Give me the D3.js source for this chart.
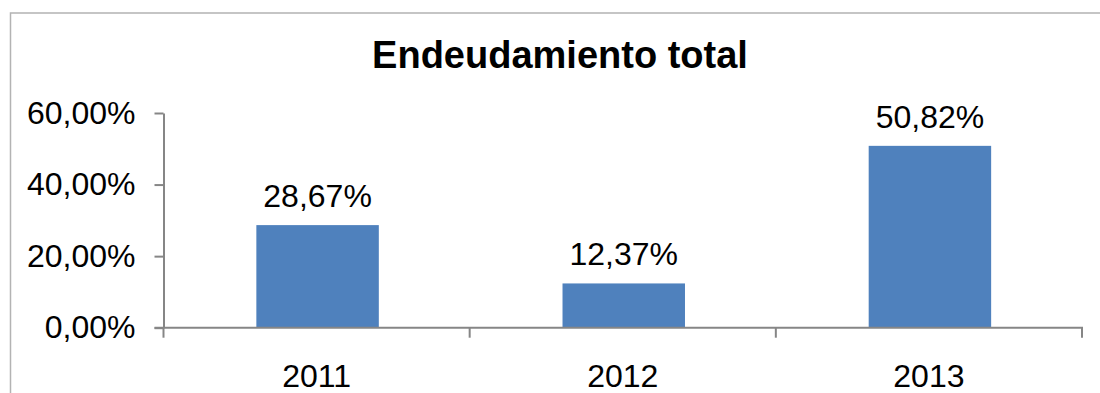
<!DOCTYPE html>
<html>
<head>
<meta charset="utf-8">
<script src="https://cdn.jsdelivr.net/npm/d3@7"></script>
<style>
  html, body { margin: 0; padding: 0; background: #fff; }
  svg { display: block; font-family: "Liberation Sans", Arial, sans-serif; }
</style>
</head>
<body>
<svg id="chart" width="1100" height="393"></svg>
<script>
// Chart data
const categories = ["2011", "2012", "2013"];
const values = [0.2867, 0.1237, 0.5082];
const yTicks = [0, 0.2, 0.4, 0.6];
const chartTitle = "Endeudamiento total";

// Spanish number formatting (decimal comma)
const es = d3.formatLocale({ decimal: ",", thousands: ".", grouping: [3], currency: ["", " €"] });
const pct = es.format(".2%");

const svg = d3.select("#chart");
const W = 1100, H = 393;
const plot = { left: 163.5, right: 1082, top: 113, bottom: 327.7 };

// Outer chart frame (continues past the right and bottom edges)
svg.append("rect")
  .attr("x", 10.5).attr("y", 13)
  .attr("width", W + 20).attr("height", H + 20)
  .attr("fill", "none").attr("stroke", "#b3b3b3").attr("stroke-width", 1.5);

// Title
svg.append("text")
  .attr("x", 560).attr("y", 68)
  .attr("text-anchor", "middle")
  .attr("font-size", 38).attr("font-weight", "bold").attr("fill", "#000")
  .text(chartTitle);

const x = d3.scaleBand().domain(categories).range([plot.left, plot.right]).padding(0);
const y = d3.scaleLinear().domain([0, 0.6]).range([plot.bottom, plot.top]);

const axisColor = "#868686";

// Bars
const barW = x.bandwidth() * 0.4;
svg.append("g").selectAll("rect")
  .data(categories)
  .join("rect")
  .attr("x", (d) => x(d) + (x.bandwidth() - barW) / 2 + 1)
  .attr("y", (d, i) => y(values[i]))
  .attr("width", barW)
  .attr("height", (d, i) => y(0) - y(values[i]))
  .attr("fill", "#4f81bd");

// Value labels
svg.append("g").selectAll("text")
  .data(categories)
  .join("text")
  .attr("x", (d) => x(d) + x.bandwidth() / 2 + 1)
  .attr("y", (d, i) => y(values[i]) - 18)
  .attr("text-anchor", "middle")
  .attr("font-size", 32).attr("fill", "#000")
  .text((d, i) => pct(values[i]));

// Y axis
const yAxis = svg.append("g")
  .attr("transform", `translate(${plot.left},0)`)
  .call(d3.axisLeft(y).tickValues(yTicks).tickFormat(pct).tickSize(9).tickPadding(19).tickSizeOuter(0));
yAxis.select(".domain").attr("stroke", axisColor).attr("stroke-width", 2);
yAxis.selectAll(".tick line").attr("stroke", axisColor).attr("stroke-width", 2);
yAxis.selectAll(".tick text")
  .attr("font-size", 32).attr("fill", "#000")
  .attr("font-family", "Liberation Sans, Arial, sans-serif");

// X axis: labels centred under bars, tick marks on category boundaries
const xAxis = svg.append("g")
  .attr("transform", `translate(0,${plot.bottom})`)
  .call(d3.axisBottom(x).tickSize(0).tickPadding(37).tickSizeOuter(0));
xAxis.select(".domain").remove();
xAxis.selectAll(".tick text")
  .attr("font-size", 32).attr("fill", "#000")
  .attr("font-family", "Liberation Sans, Arial, sans-serif");

svg.append("line")
  .attr("x1", plot.left - 9).attr("x2", plot.right + 1)
  .attr("y1", plot.bottom).attr("y2", plot.bottom)
  .attr("stroke", axisColor).attr("stroke-width", 2);

const boundaries = categories.map((d) => x(d)).concat([x(categories[categories.length - 1]) + x.bandwidth()]);
svg.append("g").selectAll("line")
  .data(boundaries)
  .join("line")
  .attr("x1", (d) => d).attr("x2", (d) => d)
  .attr("y1", plot.bottom).attr("y2", plot.bottom + 10)
  .attr("stroke", axisColor).attr("stroke-width", 2);
</script>
</body>
</html>
